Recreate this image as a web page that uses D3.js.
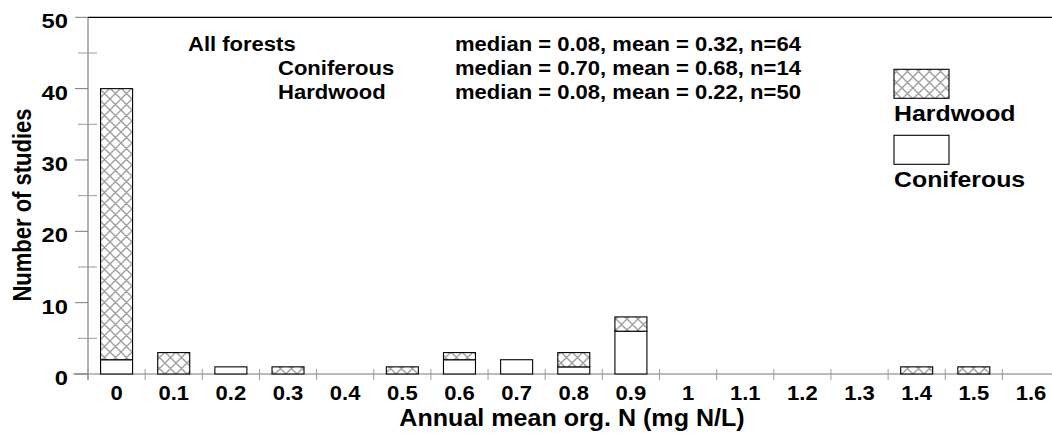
<!DOCTYPE html>
<html>
<head>
<meta charset="utf-8">
<script src="https://cdn.jsdelivr.net/npm/d3@7"></script>
<style>
  body { margin: 0; background: #fff; }
  svg text { font-family: Arial, "Liberation Sans", sans-serif; font-weight: bold; fill: #000; }
</style>
</head>
<body>
<div id="chart"></div>
<script>
// Histogram of annual mean organic N, number of studies per bin
const bins = ['0', '0.1', '0.2', '0.3', '0.4', '0.5', '0.6', '0.7', '0.8', '0.9',
              '1', '1.1', '1.2', '1.3', '1.4', '1.5', '1.6'];
const coniferous = [2, 0, 1, 0, 0, 0, 2, 2, 1, 6, 0, 0, 0, 0, 0, 0, 0];
const hardwood   = [38, 3, 0, 1, 0, 1, 1, 0, 2, 2, 0, 0, 0, 0, 1, 1, 0];

const yTicks = [0, 10, 20, 30, 40, 50];
const yMinorTicks = [5, 15, 25, 35, 45];

const statGroups = ['All forests', 'Coniferous', 'Hardwood'];
const statLines = [
  'median = 0.08, mean = 0.32, n=64',
  'median = 0.70, mean = 0.68, n=14',
  'median = 0.08, mean = 0.22, n=50'
];
const legendItems = ['Hardwood', 'Coniferous'];

const W = 1052, H = 437;
const SX = 1.13; // the original text looks a bit stretched sideways

const svg = d3.select('#chart').append('svg')
  .attr('width', W)
  .attr('height', H);

// crosshatch pattern for hardwood
const pat = svg.append('defs').append('pattern')
  .attr('id', 'hatch')
  .attr('patternUnits', 'userSpaceOnUse')
  .attr('width', 11)
  .attr('height', 11);
pat.append('rect').attr('width', 11).attr('height', 11).attr('fill', '#fff');
pat.append('path')
  .attr('d', 'M0,0L11,11M11,0L0,11M-1,1L1,-1M10,12L12,10M-1,10L1,12M10,-1L12,1')
  .attr('stroke', '#a0a0a0')
  .attr('stroke-width', 1.4);

const left = 88, step = 57.15;
const x = d3.scaleBand()
  .domain(bins)
  .range([left, left + step * bins.length])
  .padding(0);

const y = d3.scaleLinear()
  .domain([0, 50])
  .range([374, 17.3]);

const barW = x.bandwidth() * 0.56;

function txt(g, s, px, py, size, anchor) {
  return g.append('text')
    .attr('transform', `translate(${px},${py}) scale(${SX},1)`)
    .attr('text-anchor', anchor || 'start')
    .style('font-size', size + 'px')
    .text(s);
}

// top frame line
svg.append('line')
  .attr('x1', left).attr('x2', W)
  .attr('y1', y(50)).attr('y2', y(50))
  .attr('stroke', '#000').attr('stroke-width', 1.3);

// y axis
const yAx = svg.append('g');
yAx.append('line')
  .attr('x1', left).attr('x2', left)
  .attr('y1', y(50)).attr('y2', y(0) + 6)
  .attr('stroke', '#666');
yAx.selectAll('.major').data(yTicks).enter().append('line')
  .attr('x1', left - 13).attr('x2', left)
  .attr('y1', d => y(d)).attr('y2', d => y(d))
  .attr('stroke', '#777');
yAx.selectAll('.minor').data(yMinorTicks).enter().append('line')
  .attr('x1', left - 10).attr('x2', left + 9)
  .attr('y1', d => y(d)).attr('y2', d => y(d))
  .attr('stroke', '#999');
yTicks.forEach(d => txt(yAx, d, 68, y(d) + 11, 21, 'end'));

svg.append('text')
  .attr('transform', `translate(31,205) scale(${SX},1) rotate(-90)`)
  .attr('text-anchor', 'middle')
  .style('font-size', '22px')
  .text('Number of studies');

// x axis
const xAx = svg.append('g');
xAx.append('line')
  .attr('x1', left - 15).attr('x2', W)
  .attr('y1', y(0)).attr('y2', y(0))
  .attr('stroke', '#777');
xAx.selectAll('.tick').data(bins).enter().append('line')
  .attr('x1', d => x(d)).attr('x2', d => x(d))
  .attr('y1', y(0) - 5).attr('y2', y(0) + 6)
  .attr('stroke', '#999');
bins.forEach(d => txt(xAx, d, x(d) + x.bandwidth() / 2, 400, 19.5, 'middle'));

txt(svg, 'Annual mean org. N (mg N/L)', 572, 426, 23, 'middle')
  .attr('transform', 'translate(572,426) scale(1.09,1)');

// bars: coniferous at bottom, hardwood stacked on top
const bars = svg.append('g');
bins.forEach((b, i) => {
  const bx = x(b) + (x.bandwidth() - barW) / 2;
  const c = coniferous[i], h = hardwood[i];
  if (c > 0) {
    bars.append('rect')
      .attr('x', bx).attr('width', barW)
      .attr('y', y(c)).attr('height', y(0) - y(c))
      .attr('fill', '#fff').attr('stroke', '#000').attr('stroke-width', 1.1);
  }
  if (h > 0) {
    bars.append('rect')
      .attr('x', bx).attr('width', barW)
      .attr('y', y(c + h)).attr('height', y(c) - y(c + h))
      .attr('fill', 'url(#hatch)').attr('stroke', '#000').attr('stroke-width', 1.1);
  }
});

// stats text
const ann = svg.append('g');
const groupX = [188, 278, 278];
statGroups.forEach((s, i) => {
  txt(ann, s, groupX[i], 51 + i * 24, 19.5);
  txt(ann, statLines[i], 455, 51 + i * 24, 19.5);
});

// legend
const leg = svg.append('g');
legendItems.forEach((s, i) => {
  const ly = 69.3 + i * 66;
  leg.append('rect')
    .attr('x', 894).attr('y', ly)
    .attr('width', 55).attr('height', 29)
    .attr('fill', i === 0 ? 'url(#hatch)' : '#fff')
    .attr('stroke', '#000').attr('stroke-width', 1.1);
  txt(leg, s, 894, ly + 52, 22);
});
</script>
</body>
</html>
